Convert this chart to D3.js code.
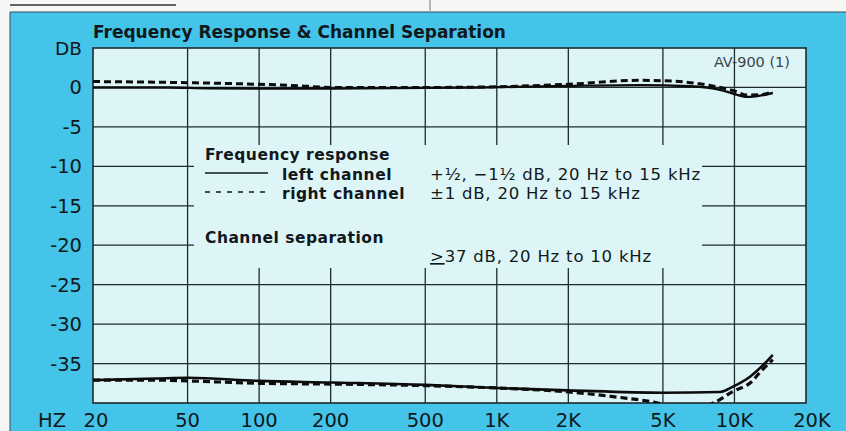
<!DOCTYPE html>
<html>
<head>
<meta charset="utf-8">
<script src="https://cdn.jsdelivr.net/npm/d3@7"></script>
<style>
  html, body { margin: 0; padding: 0; background: #fff; }
  svg { display: block; font-family: "DejaVu Sans", "Liberation Sans", Arial, sans-serif; }
</style>
</head>
<body>
<div id="chart"></div>
<script>
// axis ticks
const freqTicks = [20, 50, 100, 200, 500, 1000, 2000, 5000, 10000, 20000];
const freqTickLabels = ["20", "50", "100", "200", "500", "1K", "2K", "5K", "10K", "20K"];
const dbTicks = [0, -5, -10, -15, -20, -25, -30, -35];

// frequency response, left channel (solid)
const leftRespHz = [20, 40, 60, 100, 200, 500, 850, 2000, 4000, 6500, 8700, 9900, 11300, 13000, 14500];
const leftRespDb = [0, 0, -0.1, -0.15, -0.15, -0.05, 0, 0.2, 0.3, 0.15, -0.3, -0.8, -1.2, -1.0, -0.7];

// frequency response, right channel (dashed)
const rightRespHz = [20, 50, 100, 150, 200, 500, 850, 2000, 4000, 5500, 7700, 9900, 11300, 13000, 14500];
const rightRespDb = [0.75, 0.6, 0.4, 0.2, 0, 0, 0.05, 0.4, 0.9, 0.8, 0.3, -0.4, -0.95, -0.9, -0.5];

// channel separation, left (solid)
const leftSepHz = [20, 37, 50, 100, 200, 500, 1000, 2000, 5000, 8700, 9900, 11700, 13500, 14500];
const leftSepDb = [-37.1, -36.9, -36.8, -37.2, -37.4, -37.7, -38.1, -38.4, -38.7, -38.6, -37.9, -36.6, -34.9, -33.9];

// channel separation, right (dashed)
const rightSepHz = [20, 37, 50, 100, 200, 500, 1000, 2000, 3300, 4400, 5500, 7000, 8150, 9900, 11700, 12900, 14500];
const rightSepDb = [-37.1, -37.1, -37.2, -37.5, -37.6, -37.8, -38.1, -38.6, -39.3, -39.8, -40.4, -40.6, -40.0, -38.5, -37.4, -36.0, -34.5];

const width = 846, height = 431;
const plot = { left: 93, top: 48, right: 806, bottom: 403 };

const svg = d3.select('#chart').append('svg')
    .attr('width', width)
    .attr('height', height);

// paper strip and blue panel
svg.append('rect').attr('width', width).attr('height', height).attr('fill', '#f6f7f4');
svg.append('line').attr('x1', 10).attr('x2', 176).attr('y1', 5).attr('y2', 5)
    .attr('stroke', '#333').attr('stroke-width', 1.5);
svg.append('line').attr('x1', 430).attr('x2', 430).attr('y1', 0).attr('y2', 11)
    .attr('stroke', '#777').attr('stroke-width', 1);
svg.append('rect').attr('x', 10).attr('y', 12).attr('width', width - 10).attr('height', height - 12)
    .attr('fill', '#44c4e8');
svg.append('line').attr('x1', 10).attr('x2', width).attr('y1', 12).attr('y2', 12)
    .attr('stroke', '#2c4f5c').attr('stroke-width', 1.2);
svg.append('line').attr('x1', 10).attr('x2', 10).attr('y1', 12).attr('y2', height)
    .attr('stroke', '#2c4f5c').attr('stroke-width', 1);

const x = d3.scaleLog().domain([20, 20000]).range([plot.left, plot.right]);
const y = d3.scaleLinear().domain([-40, 5]).range([plot.bottom, plot.top]);

svg.append('rect')
    .attr('x', plot.left).attr('y', plot.top)
    .attr('width', plot.right - plot.left).attr('height', plot.bottom - plot.top)
    .attr('fill', '#def5f7');

// grid
const grid = svg.append('g').attr('stroke', '#1d2a30').attr('stroke-width', 1.3);
grid.selectAll('.vg').data(freqTicks.slice(1, -1)).join('line')
    .attr('x1', d => x(d)).attr('x2', d => x(d))
    .attr('y1', plot.top).attr('y2', plot.bottom);
grid.selectAll('.hg').data(dbTicks).join('line')
    .attr('x1', plot.left).attr('x2', plot.right)
    .attr('y1', d => y(d)).attr('y2', d => y(d));

// legend area hides the grid behind it
svg.append('rect')
    .attr('x', 194).attr('y', 145).attr('width', 508).attr('height', 123)
    .attr('fill', '#def5f7');

// border
svg.append('rect')
    .attr('x', plot.left).attr('y', plot.top)
    .attr('width', plot.right - plot.left).attr('height', plot.bottom - plot.top)
    .attr('fill', 'none').attr('stroke', '#1d2a30').attr('stroke-width', 1.6);

// axis labels
const ink = '#10181c';
svg.append('g').selectAll('text').data(dbTicks).join('text')
    .attr('x', 82).attr('y', d => y(d) + 7)
    .attr('text-anchor', 'end')
    .attr('font-size', 19.5).attr('fill', ink)
    .text(d => d);
svg.append('text').attr('x', 82).attr('y', 55).attr('text-anchor', 'end')
    .attr('font-size', 18.5).attr('fill', ink).text('DB');

svg.append('g').selectAll('text').data(freqTicks).join('text')
    .attr('x', (d, i) => x(d) + (i === 0 ? 3 : i === freqTicks.length - 1 ? 6 : 0))
    .attr('y', 427)
    .attr('text-anchor', 'middle')
    .attr('font-size', 19.5).attr('fill', ink)
    .text((d, i) => freqTickLabels[i]);
svg.append('text').attr('x', 38).attr('y', 427)
    .attr('font-size', 19.5).attr('fill', ink).text('HZ');

// title and model tag
svg.append('text').attr('x', 93).attr('y', 38)
    .attr('font-size', 17).attr('font-weight', 'bold').attr('fill', ink)
    .text('Frequency Response & Channel Separation');
svg.append('text').attr('x', 790).attr('y', 67).attr('text-anchor', 'end')
    .attr('font-size', 14.5).attr('fill', '#3a4448')
    .text('AV-900 (1)');

// curves
svg.append('clipPath').attr('id', 'clip').append('rect')
    .attr('x', plot.left).attr('y', plot.top)
    .attr('width', plot.right - plot.left).attr('height', plot.bottom - plot.top);

const line = d3.line()
    .x(d => x(d[0])).y(d => y(d[1]))
    .curve(d3.curveMonotoneX);
const zip = (a, b) => a.map((v, i) => [v, b[i]]);

const curves = svg.append('g').attr('clip-path', 'url(#clip)').attr('fill', 'none').attr('stroke', '#0c0c0c');
curves.append('path').attr('d', line(zip(leftRespHz, leftRespDb))).attr('stroke-width', 2.4);
curves.append('path').attr('d', line(zip(rightRespHz, rightRespDb))).attr('stroke-width', 3)
    .attr('stroke-dasharray', '7,4');
curves.append('path').attr('d', line(zip(leftSepHz, leftSepDb))).attr('stroke-width', 2.6);
curves.append('path').attr('d', line(zip(rightSepHz, rightSepDb))).attr('stroke-width', 3.2)
    .attr('stroke-dasharray', '7,4');

// legend
const lg = svg.append('g').attr('fill', ink);
const bold = { 'font-size': 15.5, 'font-weight': 'bold', 'letter-spacing': 0.5 };
const plain = { 'font-size': 16.5, 'letter-spacing': 0.8 };
const txt = (xx, yy, s, style) => {
    const t = lg.append('text').attr('x', xx).attr('y', yy);
    Object.entries(style).forEach(([k, v]) => t.attr(k, v));
    return s ? t.text(s) : t;
};
txt(205, 160, 'Frequency response', bold);
lg.append('line').attr('x1', 205).attr('x2', 268).attr('y1', 173).attr('y2', 173)
    .attr('stroke', ink).attr('stroke-width', 1.3);
txt(282, 180, 'left channel', bold);
lg.append('line').attr('x1', 205).attr('x2', 268).attr('y1', 192).attr('y2', 192)
    .attr('stroke', ink).attr('stroke-width', 1.3).attr('stroke-dasharray', '5,6');
txt(282, 199, 'right channel', bold);
txt(430, 180, '+½, −1½ dB, 20 Hz to 15 kHz', plain);
txt(430, 199, '±1 dB, 20 Hz to 15 kHz', plain);
txt(205, 243, 'Channel separation', bold);
const sep = txt(430, 262, null, plain);
sep.append('tspan').attr('text-decoration', 'underline').text('>');
sep.append('tspan').text('37 dB, 20 Hz to 10 kHz');
</script>
</body>
</html>
